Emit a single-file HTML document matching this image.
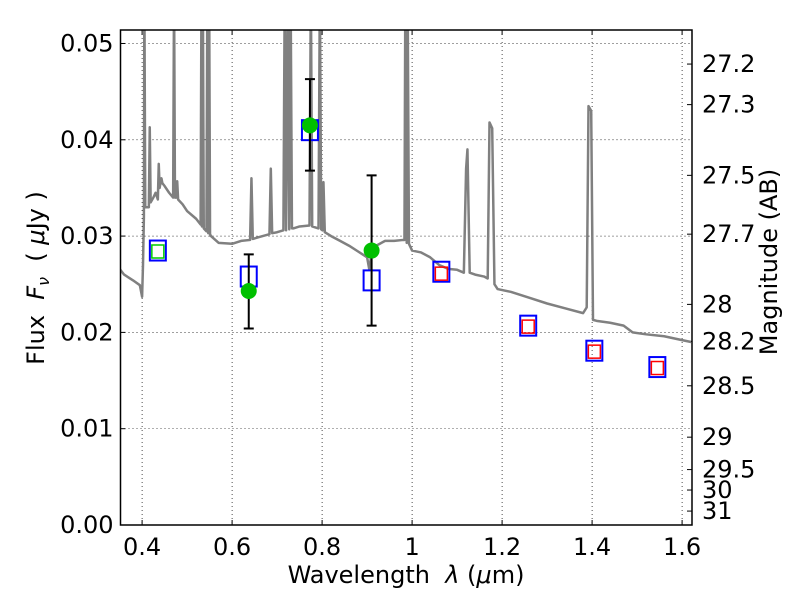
<!DOCTYPE html>
<html><head><meta charset="utf-8"><style>
body{margin:0;background:#fff;width:800px;height:600px;overflow:hidden}
svg text{font-family:"DejaVu Sans","Liberation Sans",sans-serif;fill:#000}
</style></head><body>
<svg id="c" width="800" height="600"></svg>
<script>
const specX=[0.35,0.36,0.38,0.395,0.400,0.402,0.404,0.405,0.407,0.41,0.415,0.417,0.419,0.425,0.43,0.435,0.437,0.439,0.441,0.443,0.445,0.45,0.46,0.469,0.471,0.473,0.476,0.478,0.480,0.49,0.50,0.52,0.530,0.532,0.533,0.535,0.537,0.543,0.545,0.547,0.549,0.551,0.553,0.57,0.60,0.62,0.640,0.643,0.646,0.66,0.683,0.686,0.689,0.70,0.714,0.717,0.720,0.724,0.727,0.730,0.733,0.736,0.75,0.772,0.775,0.778,0.792,0.795,0.798,0.801,0.803,0.806,0.82,0.84,0.86,0.88,0.90,0.905,0.91,0.92,0.94,0.96,0.98,0.983,0.985,0.988,0.99,0.993,1.0,1.02,1.04,1.06,1.08,1.10,1.115,1.120,1.123,1.128,1.14,1.16,1.168,1.172,1.178,1.183,1.19,1.22,1.26,1.30,1.34,1.38,1.388,1.392,1.398,1.402,1.41,1.44,1.47,1.49,1.52,1.56,1.60,1.62];
const specY=[0.0266,0.0260,0.0254,0.0249,0.0237,0.0270,0.0320,0.0560,0.0330,0.0330,0.0330,0.0413,0.0335,0.0340,0.0345,0.0338,0.0375,0.0350,0.0356,0.0360,0.0355,0.0352,0.0345,0.0340,0.0560,0.0340,0.0340,0.0357,0.0338,0.0333,0.0326,0.0318,0.0312,0.0560,0.0310,0.0560,0.0308,0.0305,0.0560,0.0303,0.0560,0.0302,0.0300,0.0293,0.0292,0.0295,0.0296,0.0360,0.0297,0.0299,0.0302,0.0370,0.0303,0.0304,0.0306,0.0560,0.0306,0.0560,0.0307,0.0560,0.0308,0.0308,0.0310,0.0311,0.0560,0.0310,0.0308,0.0560,0.0307,0.0306,0.0356,0.0304,0.0300,0.0295,0.0290,0.0284,0.0278,0.0265,0.0283,0.0290,0.0295,0.0295,0.0296,0.0296,0.0560,0.0293,0.0560,0.0292,0.0285,0.0283,0.0278,0.0270,0.0266,0.0265,0.0262,0.0370,0.0390,0.0262,0.0260,0.0258,0.0256,0.0418,0.0412,0.0250,0.0245,0.0242,0.0236,0.0230,0.0225,0.0220,0.0226,0.0435,0.0430,0.0213,0.0212,0.0210,0.0207,0.0200,0.0198,0.0196,0.0192,0.0190];
const bandX=[0.435,0.637,0.773,0.910,1.065,1.258,1.405,1.545];
const bandFlux=[0.0285,0.0258,0.0410,0.0254,0.0263,0.0207,0.0181,0.0164];
const modelX=[0.435,1.065,1.258,1.405,1.545];
const modelFlux=[0.0284,0.0261,0.0206,0.0180,0.0163];
const modelColor=['#0c0','red','red','red','red'];
const obsX=[0.637,0.773,0.910];
const obsFlux=[0.0243,0.0415,0.0285];
const obsLo=[0.0204,0.0368,0.0207];
const obsHi=[0.0281,0.0463,0.0363];
const xTicks=[0.4,0.6,0.8,1.0,1.2,1.4,1.6];
const xTickLabels=['0.4','0.6','0.8','1','1.2','1.4','1.6'];
const yTicks=[0,0.01,0.02,0.03,0.04,0.05];
const yTickLabels=['0.00','0.01','0.02','0.03','0.04','0.05'];
const magTicks=[27.2,27.3,27.5,27.7,28,28.2,28.5,29,29.5,30,31];
const magLabels=['27.2','27.3','27.5','27.7','28','28.2','28.5','29','29.5','30','31'];

const L=120.5,R=692,T=30,B=525,x0=0.352,x1=1.622,y0=0,y1=0.0514;
const X=v=>L+(v-x0)/(x1-x0)*(R-L);
const Y=v=>B-(v-y0)/(y1-y0)*(B-T);
const svg=document.getElementById('c');const NS='http://www.w3.org/2000/svg';
function mk(t,a,p){const e=document.createElementNS(NS,t);for(const k in a)e.setAttribute(k,a[k]);(p||svg).appendChild(e);return e;}
const defs=mk('defs',{});const cp=mk('clipPath',{id:'cp'},defs);mk('rect',{x:L,y:T,width:R-L,height:B-T},cp);
xTicks.forEach((v,i)=>{const g=mk('line',{x1:X(v),x2:X(v),y1:T,y2:B,stroke:'#000','stroke-width':0.7,'stroke-dasharray':'1,3'});

mk('line',{x1:X(v),x2:X(v),y1:B,y2:B-5,stroke:'#000'});mk('line',{x1:X(v),x2:X(v),y1:T,y2:T+5,stroke:'#000'});
const t=mk('text',{x:X(v),y:B+30,'text-anchor':'middle','font-size':24});t.textContent=xTickLabels[i];
});
yTicks.forEach((v,i)=>{const g=mk('line',{x1:L,x2:R,y1:Y(v),y2:Y(v),stroke:'#000','stroke-width':0.7,'stroke-dasharray':'1,3'});

mk('line',{x1:L,x2:L+5,y1:Y(v),y2:Y(v),stroke:'#000'});
const t=mk('text',{x:L-7,y:Y(v)+8,'text-anchor':'end','font-size':24});t.textContent=yTickLabels[i];
});
magTicks.forEach((m,i)=>{const y=Y(Math.pow(10,(23.9-m)/2.5));
mk('line',{x1:R,x2:R-5,y1:y,y2:y,stroke:'#000'});
const t=mk('text',{x:R+10,y:y+8,'font-size':24});t.textContent=magLabels[i];
});
const g=mk('g',{'clip-path':'url(#cp)'});
const sp=mk('polyline',{points:specX.map((v,i)=>X(v)+','+Y(specY[i])).join(' '),fill:'none',stroke:'#808080','stroke-width':2.5,'stroke-linejoin':'round'},g);

bandX.forEach((v,i)=>{const r=mk('rect',{x:X(v)-8,y:Y(bandFlux[i])-10,width:16,height:20,fill:'none',stroke:'#00f','stroke-width':2},g);
});
modelX.forEach((v,i)=>{const r=mk('rect',{x:X(v)-6,y:Y(modelFlux[i])-6.5,width:12,height:13,fill:'none',stroke:modelColor[i],'stroke-width':1.5},g);
});
obsX.forEach((v,i)=>{const x=X(v);
const e=mk('path',{d:`M${x},${Y(obsLo[i])}V${Y(obsHi[i])}M${x-5},${Y(obsLo[i])}h10M${x-5},${Y(obsHi[i])}h10`,stroke:'#000','stroke-width':2,fill:'none'},g);

const c=mk('circle',{cx:x,cy:Y(obsFlux[i]),r:8,fill:'#00c000'},g);
});
const fr=mk('rect',{x:L,y:T,width:R-L,height:B-T,fill:'none',stroke:'#000','stroke-width':1.5});

</script>
<svg width="800" height="600" style="position:absolute;left:0;top:0">
<text x="406" y="583" text-anchor="middle" font-size="24" xml:space="preserve">Wavelength  <tspan font-style="italic">λ</tspan> (<tspan font-style="italic">μ</tspan>m)</text>
<text transform="translate(44,278) rotate(-90)" text-anchor="middle" font-size="24" xml:space="preserve">Flux  <tspan font-style="italic">F</tspan><tspan font-style="italic" font-size="16" dy="5">ν</tspan><tspan dy="-5">  ( </tspan><tspan font-style="italic">μ</tspan>Jy )</text>
<text transform="translate(777,262) rotate(-90)" text-anchor="middle" font-size="24">Magnitude (AB)</text>
</svg>
</body></html>
